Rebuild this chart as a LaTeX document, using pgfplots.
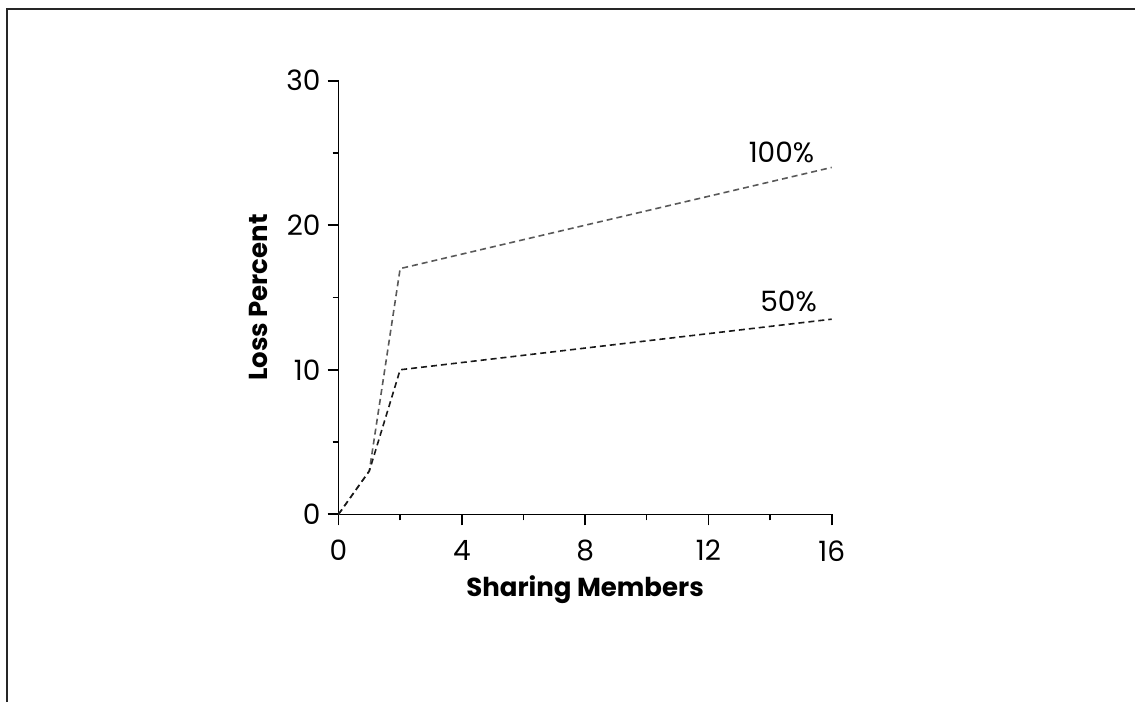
\documentclass[border=0pt]{standalone}
\usepackage{pgfplots}
\pgfplotsset{compat=1.18}
\usepackage{fontspec}
\setmainfont{Poppins}
\begin{document}
\begin{tikzpicture}
\useasboundingbox (0,0) rectangle (567.5pt,351pt);
\draw[line width=1pt, black!85] (3.5pt,0) -- (3.5pt,346.5pt) -- (567.5pt,346.5pt);
\begin{axis}[
  at={(169.25pt,93.85pt)}, anchor=origin,
  scale only axis, width=246.6pt, height=216.8pt,
  xmin=0, xmax=16, ymin=0, ymax=30,
  axis x line*=bottom, axis y line*=left,
  axis line style={line width=0.7pt},
  xtick={0,4,8,12,16}, minor xtick={2,6,10,14},
  ytick={0,10,20,30}, minor ytick={5,15,25},
  tick align=outside,
  major tick length=5.5pt, minor tick length=3pt,
  every major tick/.append style={black, line width=0.8pt},
  every minor tick/.append style={black, line width=0.7pt},
  tick label style={font=\fontsize{14}{16}\selectfont},
  xticklabel style={yshift=-4pt},
  /pgf/number format/assume math mode=true,
  xlabel={\textbf{Sharing Members}},
  ylabel={\textbf{Loss Percent}},
  label style={font=\fontsize{13}{15}\selectfont},
  xlabel style={yshift=0pt},
  ylabel style={yshift=2.5pt},
  clip=false,
]
\addplot[black!65, densely dashed, line width=0.8pt] coordinates {(0,0) (1,3) (2,17) (16,24)};
\addplot[black!90, densely dashed, line width=0.8pt] coordinates {(0,0) (1,3) (2,10) (16,13.5)};
\node[font=\fontsize{14}{16}\selectfont] at (axis cs:14.37,25.07) {100\%};
\node[font=\fontsize{14}{16}\selectfont] at (axis cs:14.6,14.7) {50\%};
\end{axis}
\end{tikzpicture}
\end{document}
